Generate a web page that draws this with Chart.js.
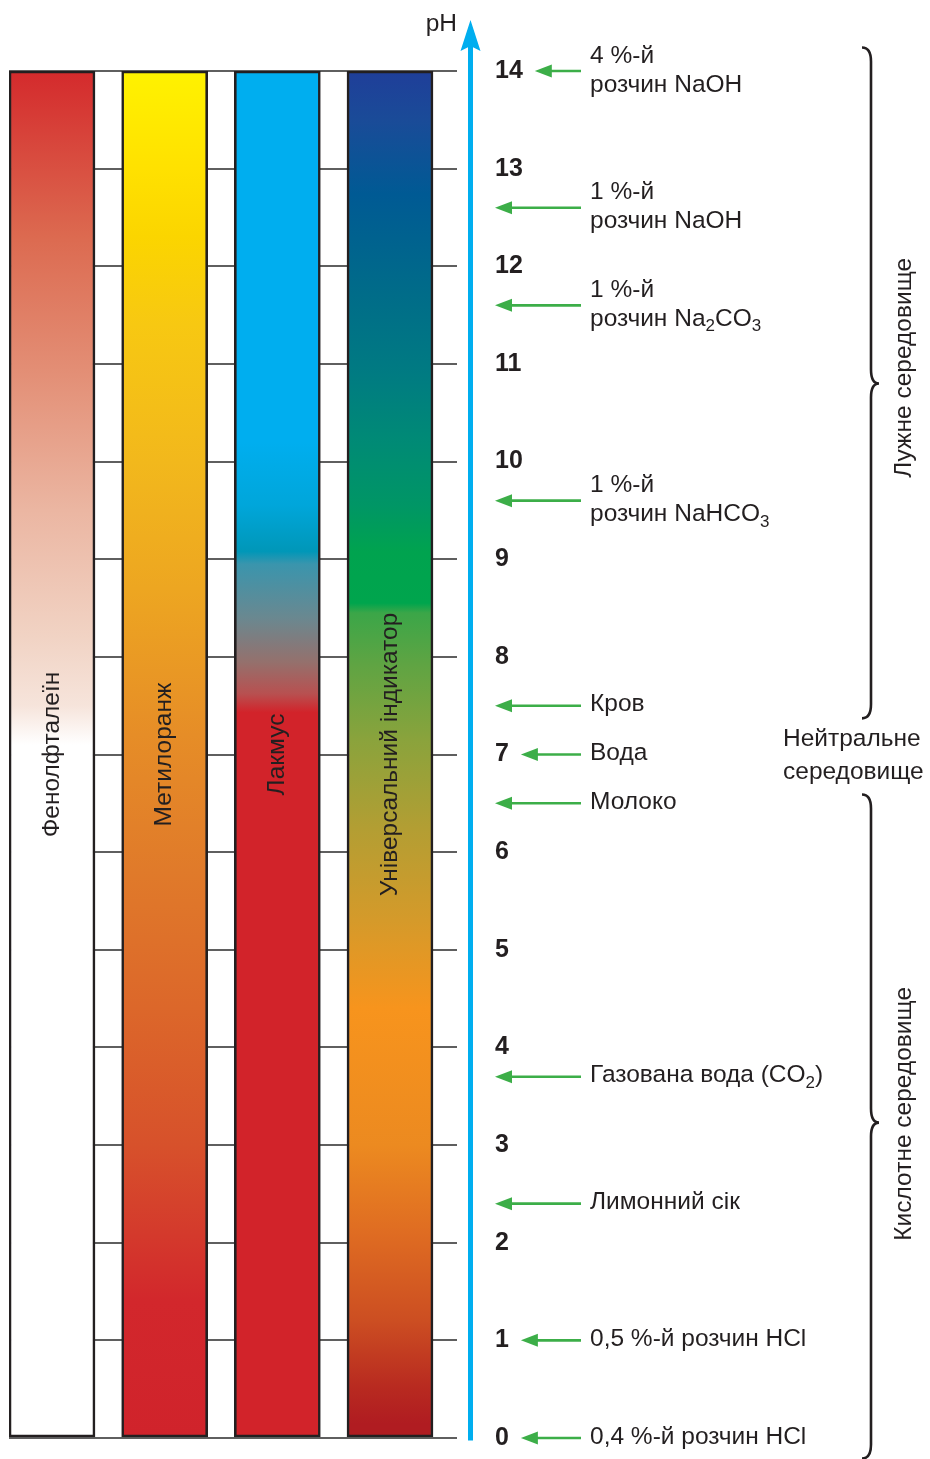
<!DOCTYPE html>
<html><head><meta charset="utf-8">
<script src="https://cdn.jsdelivr.net/npm/chart.js@4.4.1/dist/chart.umd.min.js"></script>
<style>html,body{margin:0;padding:0;background:#fff;}canvas{display:block;}</style>
</head><body>
<canvas id="c" width="930" height="1459"></canvas>
<script>
// ---- data ----
const indicators = ['Фенолфталеїн', 'Метилоранж', 'Лакмус', 'Універсальний індикатор'];
const indicatorPos = [0, 1, 2, 3];
const rangeStart = [0, 0, 0, 0];
const rangeEnd = [14, 14, 14, 14];
const phTicks = ['0','1','2','3','4','5','6','7','8','9','10','11','12','13','14'];
const axisTitle = 'pH';
const samplePH = [14, 12.6, 11.6, 9.6, 7.5, 7, 6.5, 3.7, 2.4, 1, 0];
const sampleText = [
  '4 %-й\nрозчин NaOH',
  '1 %-й\nрозчин NaOH',
  '1 %-й\nрозчин Na_2CO_3',
  '1 %-й\nрозчин NaHCO_3',
  'Кров',
  'Вода',
  'Молоко',
  'Газована вода (CO_2)',
  'Лимонний сік',
  '0,5 %-й розчин HCl',
  '0,4 %-й розчин HCl'
];
const envNames = ['Лужне середовище', 'Нейтральне\nсередовище', 'Кислотне середовище'];
const envCenterPH = [10.96, 7, 3.32];
const braceLowPH = [7.37, -0.21];
const braceHighPH = [14.24, 6.59];
const braceMidPH = [10.8, 3.23];

// ---- styles ----
const FONT = '"Liberation Sans", Arial, Helvetica, sans-serif';
const FS = 24.5;
const INK = '#231f20';
const GREEN = '#3cae48';
const BLUE = '#00aeef';
const gradientStops = [
  [[0,'#ffffff'],[7.1,'#ffffff'],[7.5,'#f6e4db'],[8.2,'#f1d3c4'],[9.5,'#ebb6a2'],[10.9,'#e38f76'],[12.3,'#dc6a50'],[14,'#d42a2c']],
  [[0,'#d0232b'],[1.4,'#d2272c'],[2.1,'#d43a2c'],[3.0,'#d7512b'],[4.4,'#dc672a'],[5.8,'#e07a2a'],[7.2,'#e68d27'],[8.7,'#eda621'],[10,'#f2b81c'],[11.4,'#f7c812'],[12.3,'#fbd500'],[13,'#ffe100'],[14,'#fff200']],
  [[0,'#d2232a'],[7.43,'#d2232a'],[7.62,'#b85050'],[7.94,'#95706c'],[8.4,'#6a8890'],[8.95,'#3a95ad'],[9.08,'#0097b8'],[9.55,'#00a6da'],[10.2,'#00aeef'],[14,'#00aeef']],
  [[0,'#b01c21'],[0.15,'#b01c21'],[0.52,'#b82a20'],[1.2,'#cc4e22'],[2.1,'#df6c22'],[3.0,'#ec8a20'],[4.4,'#f7941d'],[5.3,'#d59a2a'],[6.24,'#b39e33'],[7.15,'#8aa33c'],[7.94,'#5ea443'],[8.45,'#3ba648'],[8.55,'#00a54d'],[9.08,'#00a34f'],[9.55,'#009665'],[10.23,'#008a76'],[10.9,'#007b82'],[11.83,'#006a8a'],[12.74,'#005a94'],[13.5,'#1a4b98'],[14,'#1f3e99']]
];

function barGradient(ctx) {
  const chart = ctx.chart;
  if (!chart.chartArea) return '#fff';
  const y = chart.scales.y;
  const y0 = y.getPixelForValue(0), y1 = y.getPixelForValue(14);
  const g = chart.ctx.createLinearGradient(0, y0, 0, y1);
  gradientStops[ctx.dataIndex].forEach(([ph, col]) => g.addColorStop(ph / 14, col));
  return g;
}

function drawRich(c, str, x, y, size) {
  const parts = str.split(/(_\d)/).filter(s => s.length);
  let cx = x;
  c.textAlign = 'left';
  c.textBaseline = 'middle';
  parts.forEach(p => {
    if (p[0] === '_') {
      c.font = `${Math.round(size * 0.68)}px ${FONT}`;
      c.fillText(p.slice(1), cx, y + size * 0.3);
      cx += c.measureText(p.slice(1)).width;
    } else {
      c.font = `${size}px ${FONT}`;
      c.fillText(p, cx, y);
      cx += c.measureText(p).width;
    }
  });
}

function drawBrace(c, x0, yTop, yBot, yMid) {
  const xv = x0 + 9, xt = x0 + 17, r = 14;
  c.beginPath();
  c.moveTo(x0, yTop);
  c.quadraticCurveTo(xv, yTop, xv, yTop + r);
  c.lineTo(xv, yMid - r);
  c.quadraticCurveTo(xv, yMid, xt, yMid);
  c.quadraticCurveTo(xv, yMid, xv, yMid + r);
  c.lineTo(xv, yBot - r);
  c.quadraticCurveTo(xv, yBot, x0, yBot);
  c.strokeStyle = INK;
  c.lineWidth = 2.6;
  c.stroke();
}

const annotations = {
  id: 'annotations',
  afterDatasetsDraw(chart) {
    const c = chart.ctx, y = chart.scales.y;
    const meta = chart.getDatasetMeta(0);
    c.save();
    c.fillStyle = INK;
    c.font = `${FS}px ${FONT}`;
    c.textAlign = 'center';
    c.textBaseline = 'middle';
    meta.data.forEach((bar, i) => {
      c.save();
      c.translate(bar.x, y.getPixelForValue(7));
      c.rotate(-Math.PI / 2);
      c.fillText(indicators[i], 0, 0);
      c.restore();
    });
    c.restore();
  },
  afterDraw(chart) {
    const c = chart.ctx, y = chart.scales.y;
    const axX = 470.5;
    c.save();
    // blue pH axis with arrow
    c.strokeStyle = BLUE;
    c.lineWidth = 5;
    c.beginPath();
    c.moveTo(axX, y.getPixelForValue(0) + 2.5);
    c.lineTo(axX, 44);
    c.stroke();
    c.fillStyle = BLUE;
    c.beginPath();
    c.moveTo(axX, 20);
    c.lineTo(axX + 10, 51);
    c.lineTo(axX, 46);
    c.lineTo(axX - 10, 51);
    c.closePath();
    c.fill();
    c.fillStyle = INK;
    c.font = `${FS}px ${FONT}`;
    c.textAlign = 'right';
    c.textBaseline = 'alphabetic';
    c.fillText(axisTitle, 457, 31);

    // sample arrows and labels
    const tickX = 495, tailX = 581, textX = 590;
    samplePH.forEach((ph, i) => {
      const py = y.getPixelForValue(ph);
      let tip = tickX;
      if (Number.isInteger(ph)) {
        c.font = `bold 25px ${FONT}`;
        tip = tickX + c.measureText(phTicks[ph]).width + 12;
      }
      c.strokeStyle = GREEN;
      c.fillStyle = GREEN;
      c.lineWidth = 2.6;
      c.beginPath();
      c.moveTo(tailX, py);
      c.lineTo(tip + 12, py);
      c.stroke();
      c.beginPath();
      c.moveTo(tip, py);
      c.lineTo(tip + 17, py - 6.5);
      c.lineTo(tip + 17, py + 6.5);
      c.closePath();
      c.fill();
      c.fillStyle = INK;
      const lines = sampleText[i].split('\n');
      if (lines.length === 2) {
        drawRich(c, lines[0], textX, py - 15, FS);
        drawRich(c, lines[1], textX, py + 14, FS);
      } else {
        drawRich(c, lines[0], textX, py - 1, FS);
      }
    });

    // braces
    for (let k = 0; k < 2; k++) {
      drawBrace(c, 862, y.getPixelForValue(braceHighPH[k]), y.getPixelForValue(braceLowPH[k]), y.getPixelForValue(braceMidPH[k]));
    }
    // environment labels
    c.fillStyle = INK;
    c.font = `${FS}px ${FONT}`;
    c.textAlign = 'center';
    c.textBaseline = 'middle';
    [0, 2].forEach(k => {
      c.save();
      c.translate(904, y.getPixelForValue(envCenterPH[k]));
      c.rotate(-Math.PI / 2);
      c.fillText(envNames[k], 0, 0);
      c.restore();
    });
    const nl = envNames[1].split('\n');
    c.textAlign = 'left';
    const ny = y.getPixelForValue(envCenterPH[1]);
    c.fillText(nl[0], 783, ny - 15);
    c.fillText(nl[1], 783, ny + 18);
    c.restore();
  }
};

new Chart(document.getElementById('c'), {
  type: 'bar',
  data: {
    datasets: [{
      data: indicatorPos.map((x, i) => ({ x: x, y: [rangeStart[i], rangeEnd[i]] })),
      backgroundColor: barGradient,
      borderColor: INK,
      borderWidth: 2.6,
      borderSkipped: false,
      barThickness: 86
    }]
  },
  options: {
    responsive: false,
    animation: false,
    events: [],
    layout: { padding: { top: 71, bottom: 21, left: 9, right: 0 } },
    plugins: { legend: { display: false }, tooltip: { enabled: false } },
    scales: {
      x: {
        type: 'linear',
        min: -0.3817,
        max: 3.5947,
        offset: false,
        display: false
      },
      y: {
        position: 'right',
        min: 0,
        max: 14,
        afterFit(scale) { scale.width = 473; },
        border: { display: false },
        grid: { color: '#5f5f5f', lineWidth: 2, drawTicks: true, tickLength: 38, tickColor: 'rgba(0,0,0,0)' },
        ticks: {
          stepSize: 1,
          padding: 0,
          color: INK,
          font: { family: FONT, size: 25, weight: 'bold' },
          callback: (v) => phTicks[v]
        }
      }
    }
  },
  plugins: [annotations]
});
</script>
</body></html>
